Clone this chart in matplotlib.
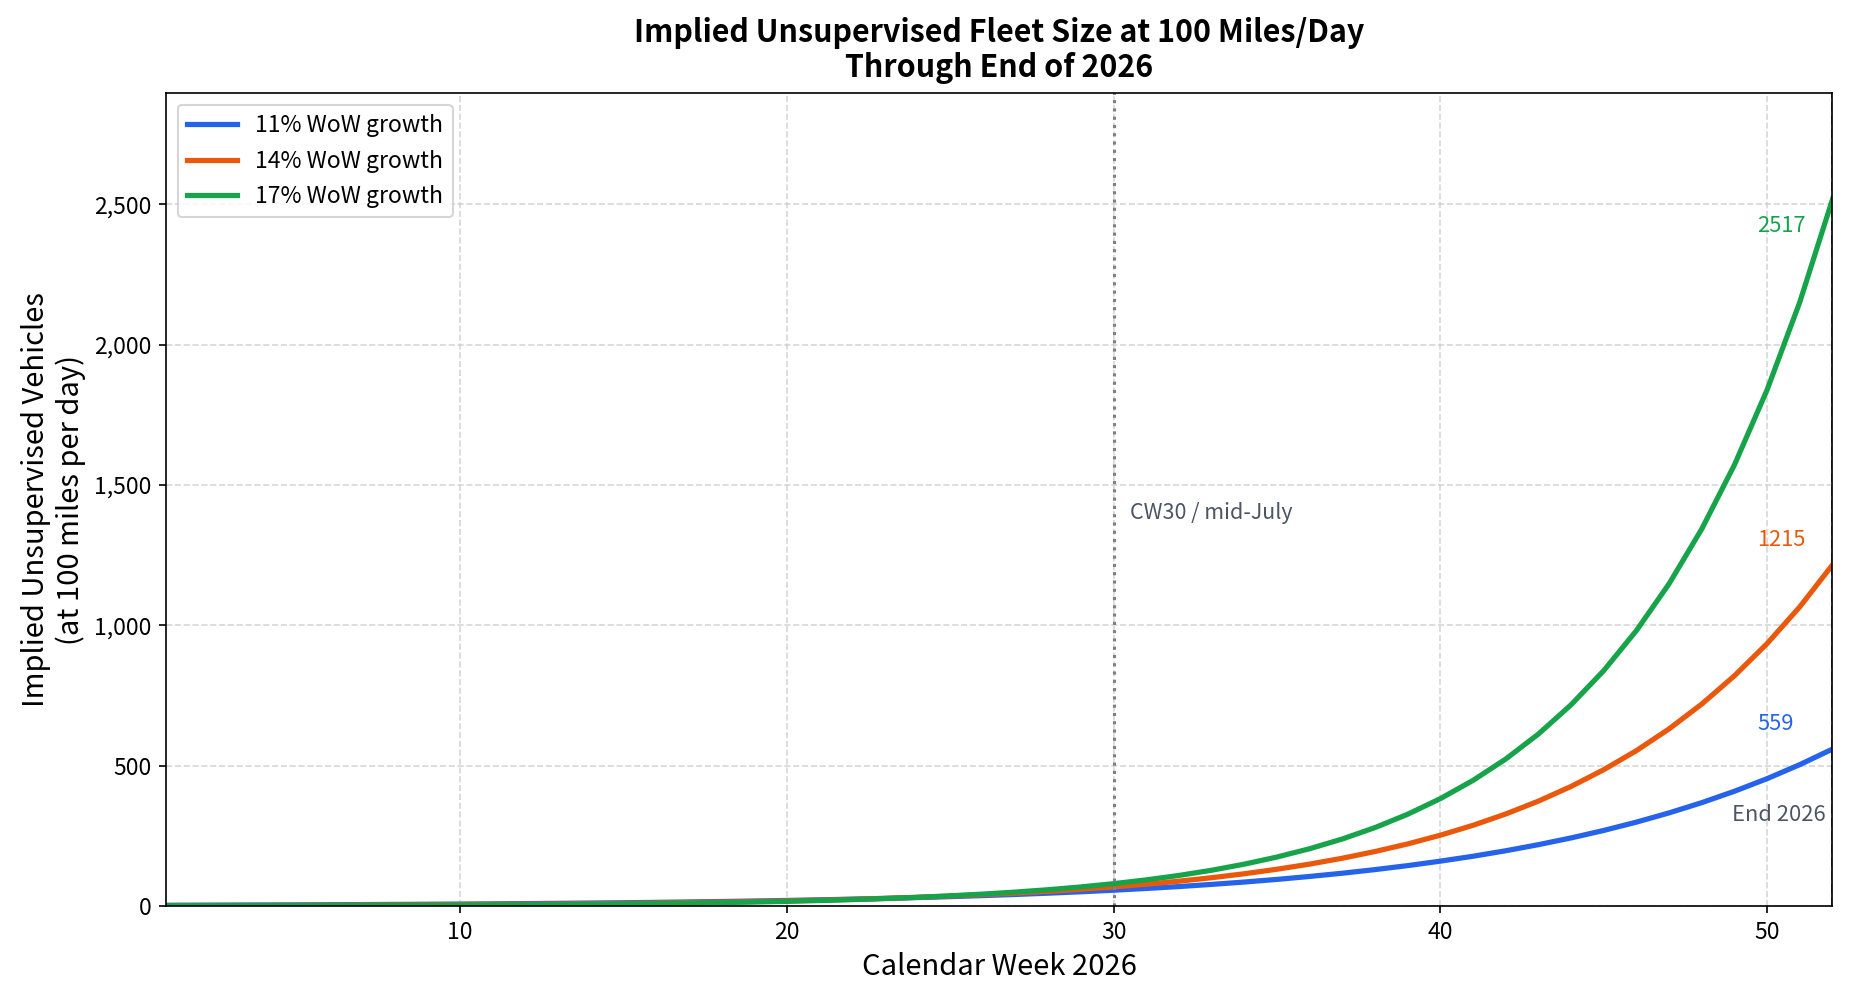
import numpy as np
import matplotlib
matplotlib.use("Agg")
import matplotlib.pyplot as plt
from matplotlib.ticker import FuncFormatter

plt.rcParams['font.family'] = ['Noto Sans CJK JP', 'DejaVu Sans']

# ── Data ──────────────────────────────────────────────────────
weeks = list(range(1, 53))

fleet_11 = [2.7, 3.0, 3.4, 3.7, 4.1, 4.6, 5.1, 5.7, 6.3, 7.0,
            7.7, 8.6, 9.5, 10.6, 11.7, 13.0, 14.5, 16.1, 17.8, 19.8,
            22.0, 24.4, 27.1, 30.1, 33.4, 37.1, 41.1, 45.7, 50.7, 56.3,
            62.5, 69.3, 77.0, 85.4, 94.8, 105.3, 116.8, 129.7, 143.9, 159.8,
            177.3, 196.8, 218.5, 242.5, 269.2, 298.8, 331.7, 368.2, 408.7, 453.7,
            503.6, 559.0]

fleet_14 = [1.5, 1.7, 2.0, 2.2, 2.6, 2.9, 3.3, 3.8, 4.3, 4.9,
            5.6, 6.4, 7.3, 8.3, 9.5, 10.8, 12.4, 14.1, 16.1, 18.3,
            20.9, 23.8, 27.2, 31.0, 35.3, 40.3, 45.9, 52.4, 59.7, 68.0,
            77.6, 88.4, 100.8, 114.9, 131.0, 149.3, 170.2, 194.1, 221.2, 252.2,
            287.5, 327.8, 373.6, 425.9, 485.6, 553.5, 631.0, 719.4, 820.1, 934.9,
            1065.8, 1215.0]

fleet_17 = [0.8, 1.0, 1.2, 1.4, 1.6, 1.9, 2.2, 2.5, 2.9, 3.4,
            4.0, 4.7, 5.5, 6.5, 7.6, 8.8, 10.3, 12.1, 14.1, 16.5,
            19.4, 22.7, 26.5, 31.0, 36.3, 42.5, 49.7, 58.1, 68.0, 79.6,
            93.1, 108.9, 127.4, 149.1, 174.5, 204.1, 238.8, 279.4, 326.9, 382.5,
            447.5, 523.6, 612.6, 716.8, 838.6, 981.2, 1148.0, 1343.2, 1571.5, 1838.7,
            2151.3, 2517.0]

labels = ["11% WoW growth", "14% WoW growth", "17% WoW growth"]
colors = ["#2563eb", "#ea580c", "#16a34a"]
series = [fleet_11, fleet_14, fleet_17]
end_offsets = [12, 12, -13]   # label offset in points from the end value

# ── Plot ───────────────────────────────────────────────────────
fig = plt.figure(figsize=(12.33, 6.68), dpi=150)
ax = fig.add_axes([0.0898, 0.0958, 0.901, 0.811])

for vals, lab, col in zip(series, labels, colors):
    ax.plot(weeks, vals, color=col, lw=2.5, label=lab)

# end-of-year value labels
for vals, col, dy in zip(series, colors, end_offsets):
    ax.annotate(f"{vals[-1]:.0f}", xy=(weeks[-1], vals[-1]),
                xytext=(-36, dy), textcoords="offset points",
                ha="left", va="center", fontsize=10.5, color=col)

ymax = max(fleet_17) * 1.15

ax.axvline(30, color="gray", ls=":", lw=1.5)
ax.text(30.5, 1400, "CW30 / mid-July", fontsize=10.3, color="#4b5563",
        va="center", ha="left")

ax.axvline(52, color="#374151", ls="--", lw=1.2)
ax.text(51.8, 325, "End 2026", fontsize=10.5, color="#4b5563",
        va="center", ha="right")

ax.set_xlim(1, 52)
ax.set_ylim(0, ymax)
ax.set_xticks([10, 20, 30, 40, 50])
ax.set_yticks([0, 500, 1000, 1500, 2000, 2500])
ax.yaxis.set_major_formatter(FuncFormatter(lambda v, p: f"{v:,.0f}"))
ax.tick_params(labelsize=11)
ax.grid(True, ls="--", color="#cccccc", alpha=0.8)

ax.set_xlabel("Calendar Week 2026", fontsize=14)
ax.set_ylabel("Implied Unsupervised Vehicles\n(at 100 miles per day)", fontsize=14)
ax.set_title("Implied Unsupervised Fleet Size at 100 Miles/Day\nThrough End of 2026",
             fontsize=14.6, fontweight="bold", linespacing=1.1, pad=8)

ax.legend(loc="upper left", fontsize=11, handlelength=2.2, labelspacing=0.55)

fig.savefig("out.png", dpi=150)
